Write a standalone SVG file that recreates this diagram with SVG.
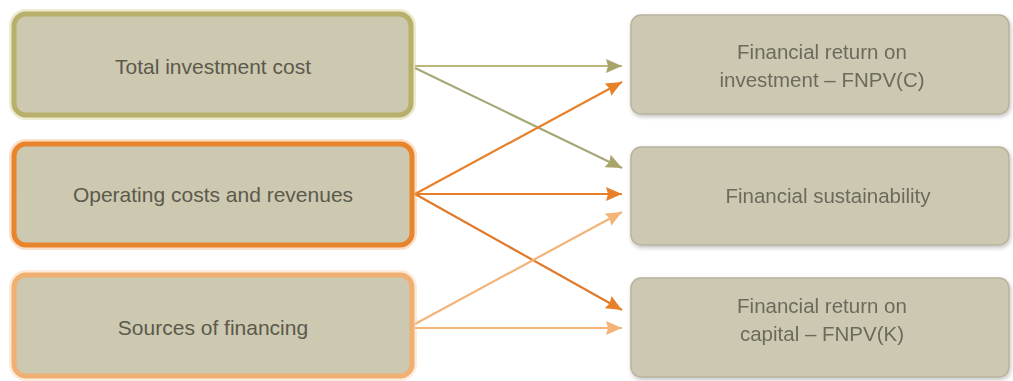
<svg xmlns="http://www.w3.org/2000/svg" width="1013" height="381" viewBox="0 0 1013 381">
  <defs>
    <style>
      .lbl { font-family: "Liberation Sans", Arial, sans-serif; font-size: 21px; fill: #5b5a4c; text-anchor: middle; }
      .rlbl { font-family: "Liberation Sans", Arial, sans-serif; font-size: 20.5px; fill: #6c6a5c; text-anchor: middle; }
      .box { fill: #cdc8b0; }
      .rbox { fill: #cdc8b1; stroke: #b8b39b; stroke-width: 1.5; }
      .glow { fill: none; stroke-width: 10; stroke-opacity: 0.35; }
      .edge { fill: none; stroke-width: 2.2; }
    </style>
    <marker id="aOlive" viewBox="0 0 16 14" refX="16" refY="7" markerWidth="16" markerHeight="14" markerUnits="userSpaceOnUse" orient="auto">
      <path d="M0,0 L16,7 L0,14 L2,7 z" fill="#a9a46a"/>
    </marker>
    <marker id="aOrange" viewBox="0 0 16 14" refX="16" refY="7" markerWidth="16" markerHeight="14" markerUnits="userSpaceOnUse" orient="auto">
      <path d="M0,0 L16,7 L0,14 L2,7 z" fill="#e8802a"/>
    </marker>
    <marker id="aLight" viewBox="0 0 16 14" refX="16" refY="7" markerWidth="16" markerHeight="14" markerUnits="userSpaceOnUse" orient="auto">
      <path d="M0,0 L16,7 L0,14 L2,7 z" fill="#f3b47a"/>
    </marker>
    <filter id="sh" x="-5%" y="-10%" width="110%" height="130%">
      <feGaussianBlur in="SourceAlpha" stdDeviation="2"/>
      <feOffset dx="1" dy="2" result="b"/>
      <feComponentTransfer><feFuncA type="linear" slope="0.25"/></feComponentTransfer>
      <feMerge><feMergeNode/><feMergeNode in="SourceGraphic"/></feMerge>
    </filter>
  </defs>
  <rect width="1013" height="381" fill="#ffffff"/>

  <g id="connectors">
    <line class="edge" x1="415" y1="66" x2="622" y2="66" stroke="#bdb77d" marker-end="url(#aOlive)"/>
    <line class="edge" x1="415" y1="68" x2="622" y2="168" stroke="#a9a678" marker-end="url(#aOlive)"/>
    <line class="edge" x1="415" y1="194" x2="622" y2="82" stroke="#e8802a" marker-end="url(#aOrange)"/>
    <line class="edge" x1="415" y1="194" x2="622" y2="194" stroke="#e8802a" marker-end="url(#aOrange)"/>
    <line class="edge" x1="415" y1="194" x2="622" y2="310" stroke="#e07a2a" marker-end="url(#aOrange)"/>
    <line class="edge" x1="415" y1="324" x2="622" y2="212" stroke="#f3b47a" marker-end="url(#aLight)"/>
    <line class="edge" x1="415" y1="328" x2="622" y2="328" stroke="#f3b47a" marker-end="url(#aLight)"/>
  </g>

  <g id="node-total-investment">
    <rect class="glow" x="14" y="14" width="397" height="101" rx="12" stroke="#c9c27c"/>
    <rect class="box" x="14" y="14" width="397" height="101" rx="12" stroke="#b8b06a" stroke-width="5"/>
    <text class="lbl" x="213" y="74">Total investment cost</text>
  </g>

  <g id="node-operating">
    <rect class="glow" x="14" y="144" width="398" height="101" rx="12" stroke="#f0a660"/>
    <rect class="box" x="14" y="144" width="398" height="101" rx="12" stroke="#e8852c" stroke-width="5"/>
    <text class="lbl" x="213" y="202">Operating costs and revenues</text>
  </g>

  <g id="node-sources">
    <rect class="glow" x="14" y="275" width="398" height="101" rx="12" stroke="#f5c594"/>
    <rect class="box" x="14" y="275" width="398" height="101" rx="12" stroke="#f0b071" stroke-width="5"/>
    <text class="lbl" x="213" y="335">Sources of financing</text>
  </g>

  <g id="node-fnpv-c" filter="url(#sh)">
    <rect class="rbox" x="631" y="15" width="378" height="99" rx="10"/>
    <text class="rlbl" x="822" y="59">Financial return on</text>
    <text class="rlbl" x="822" y="87">investment – FNPV(C)</text>
  </g>

  <g id="node-sustainability" filter="url(#sh)">
    <rect class="rbox" x="631" y="147" width="378" height="98" rx="10"/>
    <text class="rlbl" x="828" y="203">Financial sustainability</text>
  </g>

  <g id="node-fnpv-k" filter="url(#sh)">
    <rect class="rbox" x="631" y="278" width="378" height="99" rx="10"/>
    <text class="rlbl" x="822" y="313">Financial return on</text>
    <text class="rlbl" x="822" y="341">capital – FNPV(K)</text>
  </g>
</svg>
